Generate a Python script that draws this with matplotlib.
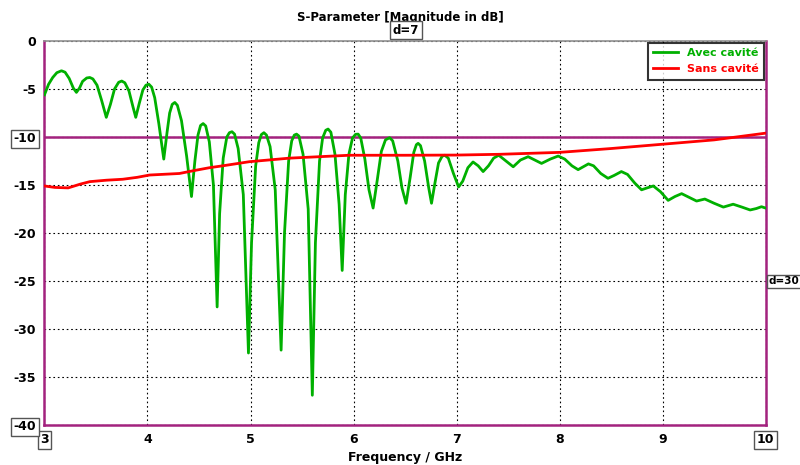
import matplotlib
matplotlib.use("Agg")
import matplotlib.pyplot as plt

# ---- data ----
avec_f = [3.00, 3.04, 3.08, 3.12, 3.165, 3.20, 3.24, 3.28, 3.31, 3.34, 3.37, 3.41, 3.44, 3.47, 3.51,
          3.555, 3.60, 3.64, 3.68, 3.72, 3.75, 3.78, 3.82, 3.86, 3.886, 3.92, 3.955, 3.985, 4.013,
          4.04, 4.07, 4.11, 4.158, 4.19, 4.215, 4.24, 4.265, 4.29, 4.33, 4.38, 4.427, 4.46, 4.49,
          4.515, 4.54, 4.565, 4.60, 4.64, 4.676, 4.70, 4.735, 4.77, 4.795, 4.82, 4.845, 4.88, 4.93,
          4.98, 5.01, 5.05, 5.08, 5.105, 5.13, 5.155, 5.19, 5.24, 5.297, 5.33, 5.37, 5.40, 5.425,
          5.447, 5.47, 5.51, 5.56, 5.60, 5.63, 5.67, 5.70, 5.73, 5.753, 5.78, 5.82, 5.86, 5.89,
          5.92, 5.955, 5.99, 6.02, 6.045, 6.07, 6.11, 6.15, 6.19, 6.23, 6.27, 6.31, 6.35, 6.38,
          6.43, 6.47, 6.51, 6.55, 6.585, 6.61, 6.627, 6.65, 6.69, 6.73, 6.757, 6.79, 6.825, 6.86,
          6.886, 6.92, 6.97, 7.02, 7.06, 7.11, 7.16, 7.21, 7.258, 7.31, 7.36, 7.41, 7.48, 7.55,
          7.62, 7.695, 7.76, 7.825, 7.91, 7.987, 8.05, 8.12, 8.18, 8.23, 8.28, 8.33, 8.40, 8.47,
          8.53, 8.60, 8.66, 8.73, 8.796, 8.85, 8.91, 8.98, 9.054, 9.12, 9.185, 9.26, 9.33, 9.41,
          9.50, 9.59, 9.685, 9.77, 9.85, 9.91, 9.96, 10.0]
avec_db = [-5.6, -4.5, -3.8, -3.3, -3.1, -3.25, -3.9, -4.9, -5.35, -4.9, -4.2, -3.85, -3.8, -3.95, -4.6,
           -6.2, -7.95, -6.6, -5.0, -4.3, -4.17, -4.35, -5.2, -6.9, -7.95, -6.5, -5.1, -4.6, -4.5,
           -4.8, -5.9, -8.6, -12.3, -9.5, -7.5, -6.6, -6.4, -6.7, -8.3, -12.0, -16.2, -12.5, -9.8,
           -8.8, -8.6, -8.85, -10.5, -15.0, -27.7, -18.0, -12.2, -10.0, -9.55, -9.45, -9.7, -11.2, -16.0,
           -32.5, -21.0, -13.0, -10.6, -9.75, -9.55, -9.8, -11.0, -15.5, -32.2, -20.0, -12.5, -10.4, -9.8,
           -9.7, -9.9, -11.8, -17.5, -36.9, -21.0, -12.5, -10.1, -9.3, -9.17, -9.5, -11.8, -17.0, -23.9,
           -16.0, -11.8, -10.1, -9.72, -9.7, -10.1, -12.3, -15.5, -17.4, -14.5, -11.5, -10.3, -10.07, -10.4,
           -12.5, -15.3, -16.9, -14.2, -11.6, -10.8, -10.66, -10.9, -12.5, -15.3, -16.9, -14.8, -12.7, -12.0,
           -11.9, -12.2, -13.8, -15.2, -14.6, -13.2, -12.6, -13.0, -13.6, -13.0, -12.2, -11.9, -12.5, -13.1,
           -12.4, -12.05, -12.4, -12.75, -12.3, -11.98, -12.3, -13.0, -13.4, -13.1, -12.8, -13.0, -13.8, -14.3,
           -14.0, -13.6, -13.9, -14.8, -15.5, -15.3, -15.1, -15.7, -16.6, -16.2, -15.9, -16.3, -16.67, -16.46,
           -16.9, -17.3, -17.0, -17.3, -17.6, -17.45, -17.26, -17.4]

sans_f = [3.00, 3.10, 3.23, 3.35, 3.44, 3.60, 3.76, 3.90, 4.02, 4.31, 4.45, 4.60, 4.73, 4.99, 5.38,
          5.96, 6.50, 7.00, 7.42, 8.00, 8.50, 8.99, 9.50, 10.0]
sans_db = [-15.1, -15.25, -15.3, -14.9, -14.65, -14.5, -14.4, -14.2, -13.96, -13.8, -13.5, -13.2, -13.0,
           -12.57, -12.2, -11.9, -11.9, -11.88, -11.8, -11.6, -11.2, -10.76, -10.3, -9.6]

series_names = ["Avec cavité", "Sans cavité"]
x_ticks = [3, 4, 5, 6, 7, 8, 9, 10]
y_ticks = [0, -5, -10, -15, -20, -25, -30, -35, -40]

GREEN = "#00b000"
RED = "#ff0000"
MAG = "#a3227e"

fig = plt.figure(figsize=(8, 4.65), dpi=100)
ax = fig.add_axes([0.0556, 0.086, 0.9014, 0.8258])

ax.set_xlim(3, 10)
ax.set_ylim(-40, 0)

ax.grid(True, color="black", linestyle=(0, (1.5, 2.5)), linewidth=0.8)
ax.set_xticks(x_ticks)
ax.set_yticks(y_ticks)

ax.plot(avec_f, avec_db, color=GREEN, lw=2.0, label=series_names[0], zorder=3,
        solid_joinstyle="round")
ax.plot(sans_f, sans_db, color=RED, lw=2.0, label=series_names[1], zorder=3)

# marker line at -10 dB
ax.axhline(-10, color=MAG, lw=1.8, zorder=2)

for s in ["left", "right", "bottom"]:
    ax.spines[s].set_color(MAG)
    ax.spines[s].set_linewidth(1.8)
ax.spines["top"].set_color("#909090")
ax.spines["top"].set_linewidth(1.2)

ax.tick_params(length=0, pad=6)
fs = 9
ax.set_yticklabels([str(v) for v in y_ticks], fontsize=fs, fontweight="bold")
ax.set_xticklabels([str(v) for v in x_ticks], fontsize=fs, fontweight="bold")

boxp = dict(boxstyle="square,pad=0.2", fc="white", ec="#555555", lw=1)
for lbl in ax.get_yticklabels():
    if lbl.get_text() in ("-10", "-40"):
        lbl.set_bbox(boxp)
for lbl in ax.get_xticklabels():
    if lbl.get_text() in ("3", "10"):
        lbl.set_bbox(boxp)

ax.set_xlabel("Frequency / GHz", fontsize=9, fontweight="bold",
              family=["Liberation Sans Narrow", "DejaVu Sans"], labelpad=3)
fig.text(0.5, 0.962, "S-Parameter [M\u0332agnitude in dB]", ha="center", va="center",
         fontsize=8.5, fontweight="bold")

# marker annotations
fig.text(0.5075, 0.935, "d=7", ha="center", va="center", fontsize=8.5, fontweight="bold",
         bbox=boxp)
fig.text(0.9605, 0.395, "d=30", ha="left", va="center", fontsize=7.5, fontweight="bold",
         bbox=dict(boxstyle="square,pad=0.15", fc="white", ec="#555555", lw=1))

leg = ax.legend(loc="upper right", fontsize=8, frameon=True, fancybox=False,
                borderaxespad=0.15, handlelength=2.2, labelspacing=0.55, borderpad=0.5)
leg.get_frame().set_edgecolor("black")
leg.get_frame().set_linewidth(1.5)
for t, c in zip(leg.get_texts(), [GREEN, RED]):
    t.set_color(c)
    t.set_fontweight("bold")

fig.savefig("out.png", dpi=100, facecolor="white")
